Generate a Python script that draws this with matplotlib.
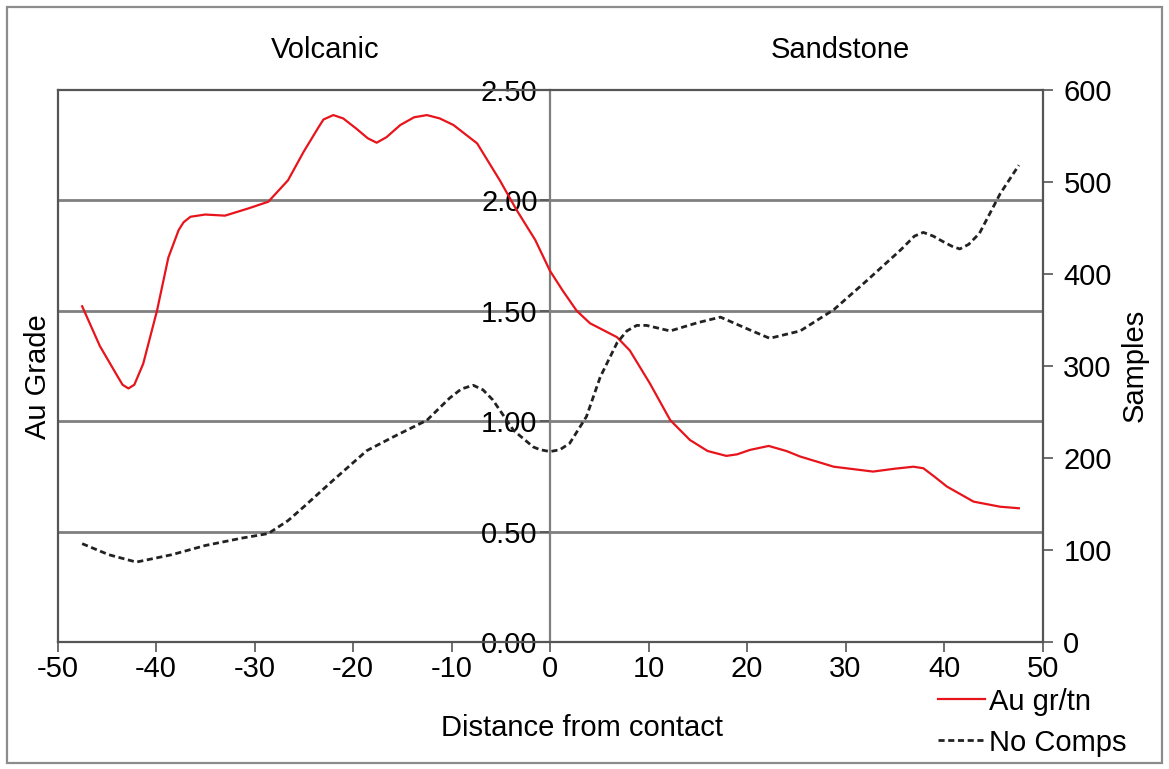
import matplotlib.pyplot as plt
from matplotlib.patches import Rectangle

plt.rcParams['font.family'] = ['Liberation Sans', 'DejaVu Sans']

# Au grade (left axis)
au_x = [-47.5, -45.7, -44.0, -43.4, -42.8, -42.2, -41.3, -39.9, -38.75, -37.7,
        -37.2, -36.5, -35.0, -33.0, -30.6, -28.6, -26.6, -25.0, -23.5, -23.0,
        -22.0, -21.0, -19.7, -18.5, -17.6, -16.6, -15.2, -13.8, -12.5, -11.2,
        -9.8, -7.4, -5.1, -3.4, -1.5, 0.0, 1.3, 2.7, 4.06, 5.5,
        6.8, 8.1, 10.15, 12.2, 14.2, 16.0, 17.9, 19.0, 20.3, 22.2,
        24.0, 25.4, 28.8, 32.8, 35.0, 36.9, 37.9, 39.0, 40.3, 43.0,
        45.7, 47.6]
au_y = [1.52, 1.34, 1.21, 1.165, 1.148, 1.165, 1.26, 1.50, 1.74, 1.865,
        1.90, 1.925, 1.935, 1.93, 1.963, 1.993, 2.09, 2.22, 2.33, 2.365,
        2.385, 2.37, 2.325, 2.28, 2.26, 2.285, 2.34, 2.375, 2.385, 2.37,
        2.34, 2.257, 2.09, 1.956, 1.82, 1.68, 1.59, 1.50, 1.443, 1.41,
        1.38, 1.32, 1.17, 1.005, 0.915, 0.865, 0.843, 0.85, 0.87, 0.888,
        0.865, 0.84, 0.794, 0.772, 0.785, 0.794, 0.787, 0.75, 0.704, 0.636,
        0.613, 0.606]

# Number of composites (right axis)
nc_x = [-47.5, -44.8, -42.0, -38.4, -35.0, -31.3, -28.6, -26.6, -25.0, -22.0,
        -18.6, -15.9, -12.5, -10.2, -9.0, -7.8, -6.8, -5.8, -3.7, -1.7,
        -1.0, 0.0, 1.0, 2.0, 3.7, 5.1, 6.8, 7.8, 8.8, 9.8,
        12.2, 15.0, 17.3, 20.3, 22.3, 25.4, 28.8, 32.2, 35.6, 37.0,
        37.9, 38.9, 39.9, 40.8, 41.6, 42.5, 43.6, 45.7, 47.6]
nc_y = [107, 95, 87, 95, 105, 113, 118, 132, 147, 176,
        208, 223, 241, 265, 275, 279, 274, 263, 230, 212,
        209, 207, 209, 216, 245, 288, 325, 338, 344, 344,
        338, 347, 353, 339, 330, 338, 361, 393, 426, 441,
        445, 441, 435, 430, 427, 432, 444, 487, 518]

x_ticks = list(range(-50, 51, 10))
au_ticks = [0, 0.5, 1.0, 1.5, 2.0, 2.5]
nc_ticks = list(range(0, 601, 100))

fs = 21
frame_c = '#555555'
grid_c = '#7f7f7f'

fig = plt.figure(figsize=(11.69, 7.69), dpi=100)
fig.patches.append(Rectangle((0.006, 0.008), 0.988, 0.983, transform=fig.transFigure,
                             fill=False, edgecolor='#8c8c8c', linewidth=1.6))

ax = fig.add_axes([0.0492, 0.1649, 0.8426, 0.7185])
ax.set_xlim(-50, 50)
ax.set_ylim(0, 2.5)
ax.set_xticks(x_ticks)
ax.set_xticklabels([str(v) for v in x_ticks])
ax.set_yticks(au_ticks)
ax.set_yticklabels(['%.2f' % v for v in au_ticks])
ax.spines['left'].set_position(('data', 0))
ax.spines['left'].set_color(grid_c)
ax.spines['left'].set_linewidth(1.6)
for s in ['top', 'bottom', 'right']:
    ax.spines[s].set_color(frame_c)
    ax.spines[s].set_linewidth(1.6)
ax.axvline(-50, color=frame_c, linewidth=1.6, clip_on=False)
for v in au_ticks[1:-1]:
    ax.axhline(v, color=grid_c, linewidth=2, zorder=0.5)
ax.tick_params(axis='y', labelsize=fs, length=7, width=1.2, color=frame_c, pad=2)
ax.tick_params(axis='x', labelsize=fs, length=7, width=1.2, color=frame_c, pad=2)

red, = ax.plot(au_x, au_y, color='#e8141c', linewidth=1.6, zorder=3)

ax2 = ax.twinx()
ax2.set_ylim(0, 600)
ax2.set_yticks(nc_ticks)
ax2.set_yticklabels([str(v) for v in nc_ticks])
ax2.tick_params(axis='y', labelsize=fs, length=7, width=1.2, color=frame_c, pad=8)
for s in ax2.spines.values():
    s.set_visible(False)
blk, = ax2.plot(nc_x, nc_y, color='#222222', linewidth=2, linestyle=(0, (2.2, 1.3)))

fig.text(0.278, 0.935, 'Volcanic', fontsize=fs, ha='center', va='center')
fig.text(0.7186, 0.935, 'Sandstone', fontsize=fs, ha='center', va='center')
fig.text(0.0325, 0.51, 'Au Grade', fontsize=fs, rotation=90, ha='center', va='center')
fig.text(0.971, 0.525, 'Samples', fontsize=fs, rotation=90, ha='center', va='center')
fig.text(0.498, 0.0533, 'Distance from contact', fontsize=fs, ha='center', va='center')

fig.legend([red, blk], ['Au gr/tn', 'No Comps'], loc='center left',
           bbox_to_anchor=(0.79, 0.061), frameon=False, fontsize=fs,
           handlelength=1.6, handletextpad=0.15, labelspacing=0.45, borderpad=0)

fig.savefig('out.png', dpi=100)
